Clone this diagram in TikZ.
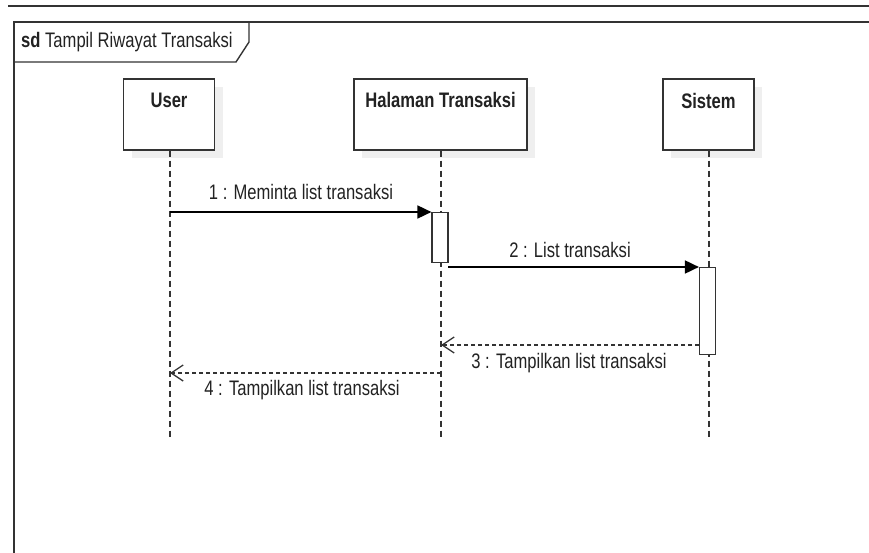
\documentclass[tikz,border=0pt]{standalone}
\usepackage{fontspec}
\setmainfont{Liberation Sans}[FakeStretch=0.79]
\usetikzlibrary{arrows.meta}
\definecolor{ink}{HTML}{222222}
\definecolor{edge}{HTML}{333333}
\definecolor{shade}{HTML}{EFEFEF}
\tikzset{
  txt/.style={font=\fontsize{21}{24}\selectfont, text=ink, inner sep=0pt},
  headbox/.style={draw=edge, line width=1.4pt, fill=white, minimum height=71pt, inner sep=0pt},
  headshadow/.style={fill=shade, draw=none, minimum height=71pt, inner sep=0pt},
  lifeline/.style={draw=edge, line width=1.1pt, dash pattern=on 6pt off 4pt},
  actbox/.style={draw=edge, line width=1.2pt, fill=white, minimum width=16pt, inner sep=0pt},
  callmsg/.style={draw=black, line width=1.8pt, -{Triangle[length=14pt,width=13pt]}},
  replymsg/.style={draw=edge, line width=1.3pt, dash pattern=on 4pt off 3pt,
                   -{Straight Barb[length=12pt,width=16pt,line width=1.3pt]}},
}
\begin{document}
\begin{tikzpicture}[x=1pt,y=-1pt]
  \useasboundingbox[fill=white] (0,0) rectangle (869,553);

  % rule along the top and the sd frame
  \draw[edge, line width=2.2pt] (8,6) -- (869,6);
  \draw[edge, line width=1.6pt] (869,22) -- (14,22) -- (14,553);
  \draw[edge, line width=1.4pt] (14,62) -- (236,62) -- (249,42) -- (249,22);
  \node[txt, anchor=base west] (title) at (21,48) {\textbf{sd}\ Tampil Riwayat Transaksi};

  % lifeline heads (with soft drop shadows)
  \node[headshadow, minimum width=91pt] (usersh) at (177,123) {};
  \node[headshadow, minimum width=173pt] (halsh) at (448.5,123) {};
  \node[headshadow, minimum width=91pt] (sissh) at (716.5,123) {};
  \node[headbox, minimum width=91pt] (user) at (169,114.5) {};
  \node[headbox, minimum width=173pt] (hal) at (440.5,114.5) {};
  \node[headbox, minimum width=91pt] (sis) at (708.5,114.5) {};
  \node[txt, anchor=base, font=\fontsize{21}{24}\selectfont\bfseries] (userlbl) at (169,108) {User};
  \node[txt, anchor=base, font=\fontsize{21}{24}\selectfont\bfseries] (hallbl) at (440.5,108) {Halaman Transaksi};
  \node[txt, anchor=base, font=\fontsize{21}{24}\selectfont\bfseries] (sislbl) at (708.5,109) {Sistem};

  % lifelines
  \coordinate (userend) at (170,440);
  \coordinate (halend) at (441,440);
  \coordinate (sisend) at (709,440);
  \draw[lifeline] (user.south -| userend) -- (userend);
  \draw[lifeline] (hal.south -| halend) -- (halend);
  \draw[lifeline] (sis.south -| sisend) -- (sisend);

  % activation bars
  \node[actbox, minimum height=50pt, anchor=north] (act1) at (440,212) {};
  \node[actbox, minimum height=87pt, anchor=north] (act2) at (707.5,267) {};

  % messages
  \coordinate (m1start) at (170,212);
  \draw[callmsg] (m1start) -- (act1.north west);
  \node[txt, anchor=base] (m1lbl) at (301,200) {1 : Meminta list transaksi};

  \coordinate (m2start) at (448,267);
  \draw[callmsg] (m2start) -- (act2.north west);
  \node[txt, anchor=base] (m2lbl) at (570,257) {2 : List transaksi};

  \coordinate (m3start) at (699,345);
  \coordinate (m3end) at (441,345);
  \draw[replymsg] (m3start) -- (m3end);
  \node[txt, anchor=base] (m3lbl) at (569,368) {3 : Tampilkan list transaksi};

  \coordinate (m4start) at (441,373);
  \coordinate (m4end) at (170,373);
  \draw[replymsg] (m4start) -- (m4end);
  \node[txt, anchor=base] (m4lbl) at (302,395) {4 : Tampilkan list transaksi};
\end{tikzpicture}
\end{document}
